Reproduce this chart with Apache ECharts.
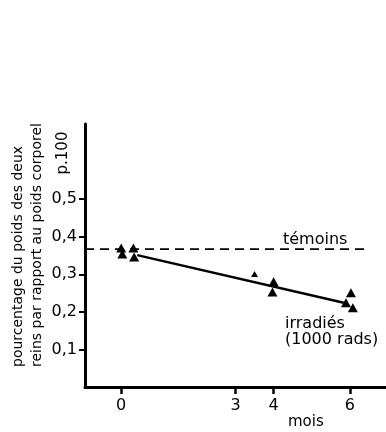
<!DOCTYPE html>
<html><head><meta charset="utf-8">
<script src="https://cdn.jsdelivr.net/npm/echarts@6/dist/echarts.min.js"></script>
<style>html,body{margin:0;padding:0;background:#fff}#c{width:386px;height:432px}</style>
</head><body><div id="c"></div>
<script>
// Data
const xTicks = [0, 3, 4, 6];
const yTicks = [0.1, 0.2, 0.3, 0.4, 0.5];
const temoinsLevel = 0.367;
const temoinsX = [-0.95, 6.5];
const irradiesLine = [[0.42, 0.351], [5.84, 0.224]];
const irradiesPoints = [
  [0.00, 0.370], [0.03, 0.354], [0.32, 0.370], [0.34, 0.346],
  [4.00, 0.280], [3.97, 0.253],
  [6.03, 0.251], [5.90, 0.224], [6.08, 0.211]
];
const smallPoints = [[3.50, 0.301]];

const FONT = 'DejaVu Sans';
const chart = echarts.init(document.getElementById('c'), null, {renderer: 'canvas'});
chart.setOption({
  animation: false,
  backgroundColor: '#fff',
  grid: {left: 85, right: 0, top: 124, bottom: 45},
  xAxis: {
    type: 'value', min: -0.95, max: 6.95,
    axisLine: {onZero: false, lineStyle: {color: '#000', width: 3}},
    axisTick: {show: true, customValues: xTicks, length: 7, lineStyle: {color: '#000', width: 2.5}},
    axisLabel: {customValues: xTicks, color: '#000', fontSize: 16, fontFamily: FONT, margin: 11},
    splitLine: {show: false}
  },
  yAxis: {
    type: 'value', min: 0, max: 0.7,
    axisLine: {show: true, onZero: false, lineStyle: {color: '#000', width: 3}},
    axisTick: {show: true, customValues: yTicks, length: 6, lineStyle: {color: '#000', width: 2}},
    axisLabel: {customValues: yTicks, color: '#000', fontSize: 16, fontFamily: FONT, margin: 8,
      verticalAlign: 'middle', padding: [0, 0, 9, 0],
      formatter: v => v.toFixed(1).replace('.', ',')},
    splitLine: {show: false}
  },
  series: [
    {type: 'line', data: temoinsX.map(x => [x, temoinsLevel]), symbol: 'none',
     lineStyle: {color: '#000', width: 1.6, type: [9, 6]}, z: 1},
    {type: 'line', data: irradiesLine, symbol: 'none',
     lineStyle: {color: '#000', width: 2.5}, z: 2},
    {type: 'scatter', data: irradiesPoints, symbol: 'triangle', symbolSize: [10, 9],
     itemStyle: {color: '#000', opacity: 1}, z: 3},
    {type: 'scatter', data: smallPoints, symbol: 'triangle', symbolSize: [7, 6],
     itemStyle: {color: '#000', opacity: 1}, z: 3}
  ],
  graphic: [
    {type: 'text', left: 283, top: 232, style: {text: 'témoins', font: '16px ' + FONT, fill: '#000'}},
    {type: 'text', left: 285, top: 316, style: {text: 'irradiés', font: '16px ' + FONT, fill: '#000'}},
    {type: 'text', left: 285, top: 332, style: {text: '(1000 rads)', font: '16px ' + FONT, fill: '#000'}},
    {type: 'text', left: 288, top: 415, style: {text: 'mois', font: '15px ' + FONT, fill: '#000'}},
    {type: 'group', x: 18, y: 367, rotation: Math.PI / 2, children: [
      {type: 'text', style: {text: 'pourcentage du poids des deux', font: '14px ' + FONT, fill: '#000', align: 'left', verticalAlign: 'middle'}}
    ]},
    {type: 'group', x: 37, y: 367, rotation: Math.PI / 2, children: [
      {type: 'text', style: {text: 'reins par rapport au poids corporel', font: '14px ' + FONT, fill: '#000', align: 'left', verticalAlign: 'middle'}}
    ]},
    {type: 'group', x: 63, y: 153, rotation: Math.PI / 2, children: [
      {type: 'text', style: {text: 'p.100', font: '15px ' + FONT, fill: '#000', align: 'center', verticalAlign: 'middle'}}
    ]}
  ]
});
</script></body></html>
